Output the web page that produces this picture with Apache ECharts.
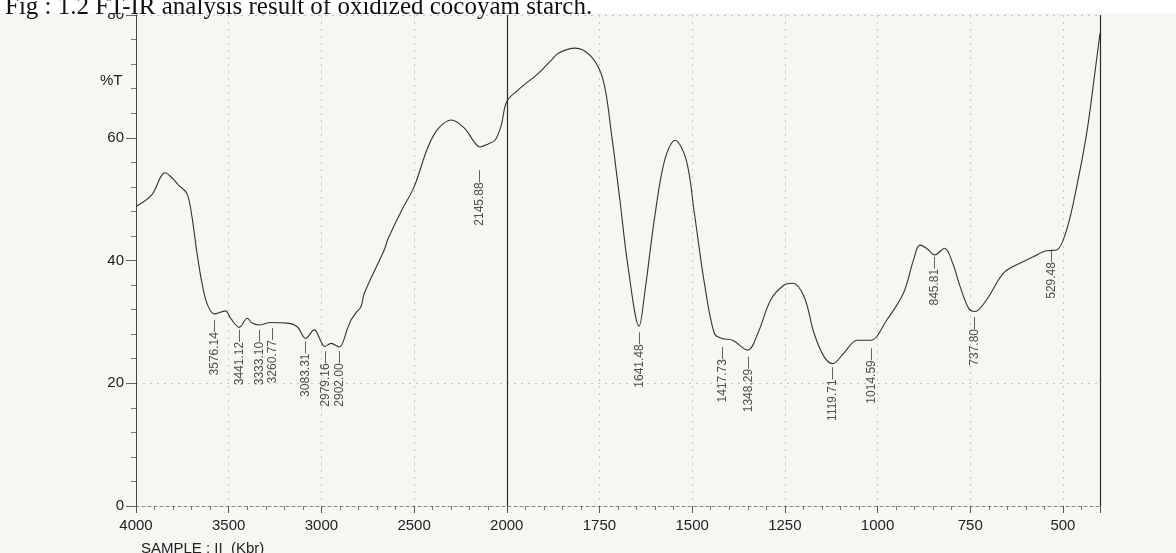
<!DOCTYPE html>
<html>
<head>
<meta charset="utf-8">
<title>FT-IR oxidized cocoyam starch</title>
<script src="https://cdn.jsdelivr.net/npm/echarts@6/dist/echarts.min.js"></script>
<style>
html, body { margin: 0; padding: 0; background: #f6f7f3; }
#chart { width: 1176px; height: 553px; }
</style>
</head>
<body>
<div id="chart"></div>
<script>
// spectrum: wavenumber (cm-1) and %T
var wavenumbers = [4000, 3915, 3843, 3800, 3771, 3725, 3698, 3671, 3644, 3617, 3578, 3518, 3490, 3443,
    3400, 3373, 3335, 3274, 3183, 3130, 3085, 3039, 2981, 2948, 2904, 2858, 2840, 2813, 2786, 2768,
    2660, 2641, 2570, 2500, 2425, 2370, 2298, 2226, 2180, 2145, 2100, 2063, 2030, 2000, 1969, 1915,
    1879, 1860, 1816, 1772, 1740, 1718, 1695, 1673, 1643, 1628, 1601, 1574, 1546, 1516, 1494, 1467,
    1440, 1420, 1391, 1350, 1323, 1288, 1252, 1229, 1198, 1171, 1144, 1121, 1091, 1055, 1019, 975,
    930, 903, 886, 868, 846, 819, 797, 777, 754, 737, 706, 661, 625, 580, 544, 517, 490, 463,
    436, 414, 400];
var transmittance = [48.8, 50.7, 54.3, 53.3, 52.3, 50.9, 47.1, 41.2, 36.3, 33.0, 31.3, 31.8, 30.6, 29.1,
    30.6, 29.8, 29.5, 29.9, 29.8, 29.2, 27.3, 28.7, 26.0, 26.5, 25.9, 29.0, 30.3, 31.5, 32.5, 34.7,
    41.8, 43.5, 48.0, 52.0, 58.5, 61.5, 62.9, 61.5, 59.5, 58.5, 59.0, 59.6, 62.0, 65.9, 67.8, 70.5,
    72.7, 73.8, 74.6, 73.2, 69.4, 60.8, 49.9, 39.0, 29.3, 34.7, 47.1, 56.4, 59.6, 56.4, 47.7, 36.3,
    28.1, 27.3, 27.0, 25.4, 28.1, 33.6, 36.0, 36.3, 34.1, 28.1, 24.3, 23.2, 24.9, 27.0, 27.0, 30.3,
    34.7, 40.1, 42.5, 42.0, 40.9, 42.0, 39.5, 35.7, 32.2, 31.7, 33.6, 37.9, 39.3, 40.6, 41.6, 41.7, 45.0, 52.0,
    60.7, 70.5, 77.0];

// peak annotations printed by the instrument
var peakNames = ['3576.14', '3441.12', '3333.10', '3260.77', '3083.31', '2979.16', '2902.00', '2145.88',
    '1641.48', '1417.73', '1348.29', '1119.71', '1014.59', '845.81', '737.80', '529.48'];
var peakLabelTop = [30.3, 28.7, 28.7, 29.0, 26.8, 25.2, 25.2, 54.7,
    28.3, 25.9, 24.3, 22.6, 25.7, 40.6, 30.8, 41.7];

var yTicks = [0, 20, 40, 60, 80];

// chart paper is drawn at double scale below 2000 cm-1
function toAxis(wn) { return wn >= 2000 ? 4000 - wn : 6000 - 2 * wn; }
function fromAxis(u) { return u <= 2000 ? 4000 - u : (6000 - u) / 2; }

var lineData = wavenumbers.map(function (w, i) { return [toAxis(w), transmittance[i]]; });
var peakData = peakNames.map(function (n, i) {
    return { name: n, value: [toAxis(parseFloat(n)), peakLabelTop[i]] };
});

var chart = echarts.init(document.getElementById('chart'));
chart.setOption({
    animation: false,
    backgroundColor: '#f6f7f3',
    textStyle: { fontFamily: 'Liberation Sans, Arial, sans-serif' },
    graphic: [{
        type: 'rect', left: 0, top: 0, z: 5,
        shape: { width: 1176, height: 13 },
        style: { fill: '#ffffff' }
    }],
    title: [{
        text: 'Fig : 1.2 FT-IR analysis result of oxidized cocoyam starch.',
        left: 0, top: -10, z: 10,
        textStyle: { fontFamily: 'Liberation Serif, Times New Roman, serif', fontWeight: 'normal', fontSize: 25, color: '#111' }
    }, {
        text: '%T', left: 95, top: 68,
        textStyle: { fontWeight: 'normal', fontSize: 15, color: '#222' }
    }, {
        text: 'SAMPLE : II  (Kbr)', left: 136, top: 536,
        textStyle: { fontWeight: 'normal', fontSize: 15, color: '#222' }
    }],
    grid: { left: 136, right: 76, top: 15, bottom: 47 },
    xAxis: {
        type: 'value',
        min: 0, max: 5200, interval: 500,
        axisLine: { lineStyle: { color: '#888', type: [3, 3] } },
        axisTick: { show: true, length: 7, lineStyle: { color: '#555' } },
        minorTick: { show: true, splitNumber: 5, length: 4, lineStyle: { color: '#777' } },
        axisLabel: {
            color: '#222', fontSize: 15, margin: 12, showMaxLabel: false,
            formatter: function (u) { return u >= 5200 ? '' : String(fromAxis(u)); }
        },
        splitLine: { show: true, lineStyle: { color: '#c4c4c4', type: [2, 5] } }
    },
    yAxis: {
        type: 'value',
        min: yTicks[0], max: yTicks[yTicks.length - 1], interval: 20,
        axisLine: { show: true, lineStyle: { color: '#444' } },
        axisTick: { show: true, length: 10, lineStyle: { color: '#666' } },
        minorTick: { show: true, splitNumber: 5, length: 5, lineStyle: { color: '#777' } },
        axisLabel: { color: '#222', fontSize: 15, margin: 12 },
        splitLine: {
            show: true,
            lineStyle: { color: ['rgba(0,0,0,0)', '#c4c4c4', 'rgba(0,0,0,0)', 'rgba(0,0,0,0)', '#c4c4c4'], type: [2, 5] }
        }
    },
    series: [{
        type: 'line',
        data: lineData,
        smooth: 0.35,
        symbol: 'none',
        lineStyle: { color: '#333333', width: 1.1 },
        markLine: {
            silent: true,
            symbol: 'none',
            label: { show: false },
            lineStyle: { color: '#2a2a2a', type: 'solid', width: 1.2 },
            data: [{ xAxis: toAxis(2000) }, { xAxis: toAxis(400) }]
        }
    }, {
        type: 'scatter',
        data: peakData,
        symbolSize: 1,
        itemStyle: { color: 'rgba(0,0,0,0)' },
        label: {
            show: true,
            formatter: '{b}\u2014',
            rotate: 90,
            position: 'inside',
            align: 'right',
            verticalAlign: 'middle',
            fontSize: 12,
            color: '#222'
        }
    }]
});
</script>
</body>
</html>
